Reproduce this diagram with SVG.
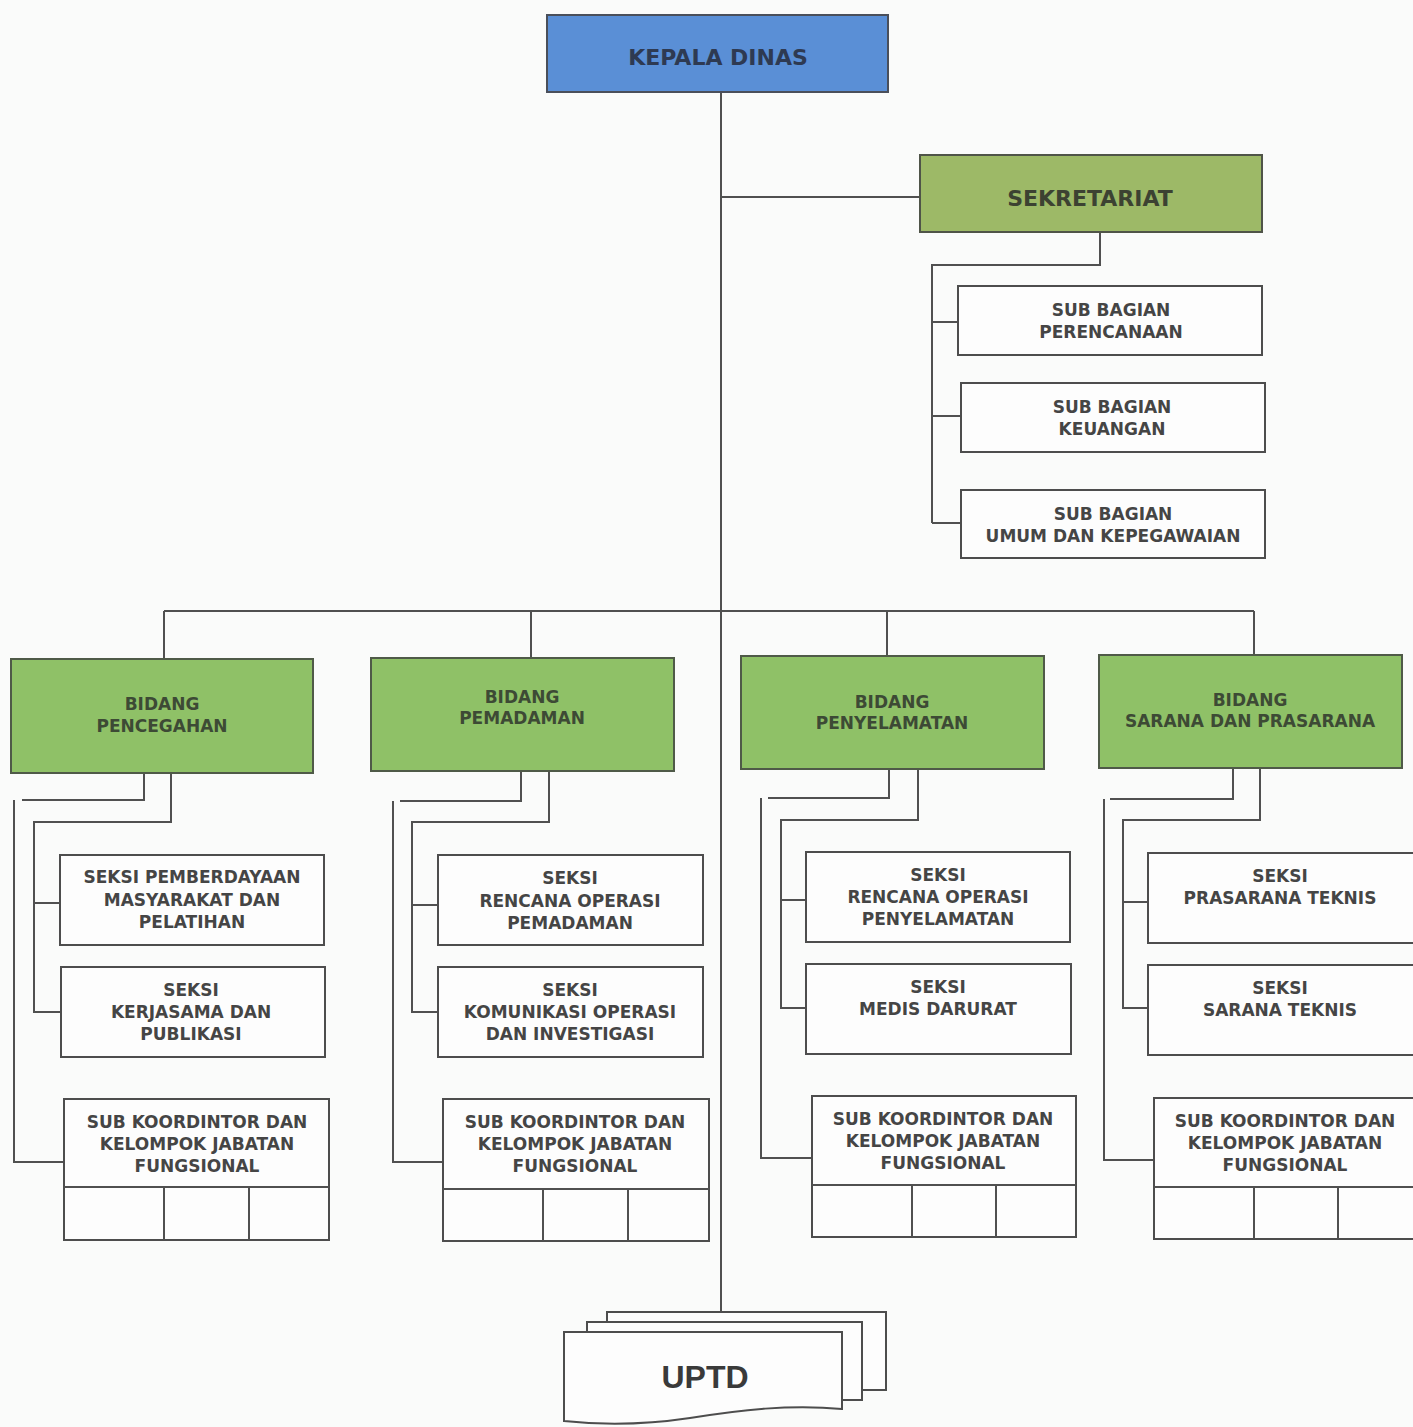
<svg xmlns="http://www.w3.org/2000/svg" width="1413" height="1427" viewBox="0 0 1413 1427">
<style>
.bg{fill:#fafbfa}
.box{fill:#fdfdfd;stroke:#4d4d4d;stroke-width:2}
.top{fill:#5a8fd6;stroke:#4a4f5a;stroke-width:2}
.sek{fill:#9db967;stroke:#4f5448;stroke-width:2}
.bid{fill:#8fc167;stroke:#4f5a48;stroke-width:2}
.ln{fill:none;stroke:#505050;stroke-width:2}
text{font-family:"DejaVu Sans","Liberation Sans",sans-serif;font-weight:bold;text-anchor:middle}
.t{font-size:17px;fill:#454545}
.tb{font-size:17px;fill:#3d4a35}
.th{font-size:22px;fill:#2e3a52}
.ts{font-size:22px;fill:#3c4232}
.tu{font-family:"Liberation Sans",sans-serif;font-size:32px;fill:#3a3a3a}
</style>
<rect class="bg" x="0" y="0" width="1413" height="1427"/>
<g id="connectors">
<path class="ln" d="M721,92 V1312"/>
<path class="ln" d="M721,197 H920"/>
<path class="ln" d="M1100,232 V265 H932 V523 M932,322 H958 M932,416 H961 M932,523 H961"/>
<path class="ln" d="M164,611 H1254 M164,611 V659 M531,611 V658 M887,611 V656 M1254,611 V655"/>
<path class="ln" d="M144,773 V800 H22 M14,800 V1162 H64 M171,773 V822 H34 V1012 H61 M34,903 H60"/>
<path class="ln" d="M521,771 V801 H400 M393,801 V1162 H443 M549,771 V822 H412 V1012 H438 M412,905 H438"/>
<path class="ln" d="M889,769 V798 H768 M761,798 V1158 H812 M918,769 V820 H781 V1008 H806 M781,900 H806"/>
<path class="ln" d="M1233,768 V799 H1110 M1104,799 V1160 H1154 M1260,768 V820 H1123 V1008 H1148 M1123,902 H1148"/>
</g>
<g id="kepala-dinas">
<rect class="top" x="547" y="15" width="341" height="77"/>
<text class="th" x="718" y="65">KEPALA DINAS</text>
</g>
<g id="sekretariat">
<rect class="sek" x="920" y="155" width="342" height="77"/>
<text class="ts" x="1090" y="206">SEKRETARIAT</text>
</g>
<g id="sub-perencanaan">
<rect class="box" x="958" y="286" width="304" height="69"/>
<text class="t" x="1111" y="316">SUB BAGIAN</text>
<text class="t" x="1111" y="338">PERENCANAAN</text>
</g>
<g id="sub-keuangan">
<rect class="box" x="961" y="383" width="304" height="69"/>
<text class="t" x="1112" y="413">SUB BAGIAN</text>
<text class="t" x="1112" y="435">KEUANGAN</text>
</g>
<g id="sub-umum">
<rect class="box" x="961" y="490" width="304" height="68"/>
<text class="t" x="1113" y="520">SUB BAGIAN</text>
<text class="t" x="1113" y="542">UMUM DAN KEPEGAWAIAN</text>
</g>
<g id="bidang-pencegahan">
<rect class="bid" x="11" y="659" width="302" height="114"/>
<text class="tb" x="162" y="710">BIDANG</text>
<text class="tb" x="162" y="732">PENCEGAHAN</text>
</g>
<g id="bidang-pemadaman">
<rect class="bid" x="371" y="658" width="303" height="113"/>
<text class="tb" x="522" y="703">BIDANG</text>
<text class="tb" x="522" y="724">PEMADAMAN</text>
</g>
<g id="bidang-penyelamatan">
<rect class="bid" x="741" y="656" width="303" height="113"/>
<text class="tb" x="892" y="708">BIDANG</text>
<text class="tb" x="892" y="729">PENYELAMATAN</text>
</g>
<g id="bidang-sarana">
<rect class="bid" x="1099" y="655" width="303" height="113"/>
<text class="tb" x="1250" y="706">BIDANG</text>
<text class="tb" x="1250" y="727">SARANA DAN PRASARANA</text>
</g>
<g id="seksi-pemberdayaan">
<rect class="box" x="60" y="855" width="264" height="90"/>
<text class="t" x="192" y="883">SEKSI PEMBERDAYAAN</text>
<text class="t" x="192" y="906">MASYARAKAT DAN</text>
<text class="t" x="192" y="928">PELATIHAN</text>
</g>
<g id="seksi-kerjasama">
<rect class="box" x="61" y="967" width="264" height="90"/>
<text class="t" x="191" y="996">SEKSI</text>
<text class="t" x="191" y="1018">KERJASAMA DAN</text>
<text class="t" x="191" y="1040">PUBLIKASI</text>
</g>
<g id="subkoor-1">
<rect class="box" x="64" y="1099" width="265" height="141"/>
<path class="ln" d="M64,1187 H329 M164,1187 V1240 M249,1187 V1240"/>
<text class="t" x="197" y="1128">SUB KOORDINTOR DAN</text>
<text class="t" x="197" y="1150">KELOMPOK JABATAN</text>
<text class="t" x="197" y="1172">FUNGSIONAL</text>
</g>
<g id="seksi-rencana-pemadaman">
<rect class="box" x="438" y="855" width="265" height="90"/>
<text class="t" x="570" y="884">SEKSI</text>
<text class="t" x="570" y="907">RENCANA OPERASI</text>
<text class="t" x="570" y="929">PEMADAMAN</text>
</g>
<g id="seksi-komunikasi">
<rect class="box" x="438" y="967" width="265" height="90"/>
<text class="t" x="570" y="996">SEKSI</text>
<text class="t" x="570" y="1018">KOMUNIKASI OPERASI</text>
<text class="t" x="570" y="1040">DAN INVESTIGASI</text>
</g>
<g id="subkoor-2">
<rect class="box" x="443" y="1099" width="266" height="142"/>
<path class="ln" d="M443,1189 H709 M543,1189 V1241 M628,1189 V1241"/>
<text class="t" x="575" y="1128">SUB KOORDINTOR DAN</text>
<text class="t" x="575" y="1150">KELOMPOK JABATAN</text>
<text class="t" x="575" y="1172">FUNGSIONAL</text>
</g>
<g id="seksi-rencana-penyelamatan">
<rect class="box" x="806" y="852" width="264" height="90"/>
<text class="t" x="938" y="881">SEKSI</text>
<text class="t" x="938" y="903">RENCANA OPERASI</text>
<text class="t" x="938" y="925">PENYELAMATAN</text>
</g>
<g id="seksi-medis">
<rect class="box" x="806" y="964" width="265" height="90"/>
<text class="t" x="938" y="993">SEKSI</text>
<text class="t" x="938" y="1015">MEDIS DARURAT</text>
</g>
<g id="subkoor-3">
<rect class="box" x="812" y="1096" width="264" height="141"/>
<path class="ln" d="M812,1185 H1076 M912,1185 V1237 M996,1185 V1237"/>
<text class="t" x="943" y="1125">SUB KOORDINTOR DAN</text>
<text class="t" x="943" y="1147">KELOMPOK JABATAN</text>
<text class="t" x="943" y="1169">FUNGSIONAL</text>
</g>
<g id="seksi-prasarana">
<rect class="box" x="1148" y="853" width="270" height="90"/>
<text class="t" x="1280" y="882">SEKSI</text>
<text class="t" x="1280" y="904">PRASARANA TEKNIS</text>
</g>
<g id="seksi-sarana">
<rect class="box" x="1148" y="965" width="270" height="90"/>
<text class="t" x="1280" y="994">SEKSI</text>
<text class="t" x="1280" y="1016">SARANA TEKNIS</text>
</g>
<g id="subkoor-4">
<rect class="box" x="1154" y="1098" width="270" height="141"/>
<path class="ln" d="M1154,1187 H1413 M1254,1187 V1239 M1338,1187 V1239"/>
<text class="t" x="1285" y="1127">SUB KOORDINTOR DAN</text>
<text class="t" x="1285" y="1149">KELOMPOK JABATAN</text>
<text class="t" x="1285" y="1171">FUNGSIONAL</text>
</g>
<g id="uptd">
<rect class="box" x="607" y="1312" width="279" height="78"/>
<rect class="box" x="587" y="1322" width="275" height="78"/>
<path class="box" d="M564,1332 H842 V1409 C790,1404 740,1410 690,1418 C650,1424 610,1426 564,1421 Z"/>
<text class="tu" x="705" y="1388">UPTD</text>
</g>
</svg>
